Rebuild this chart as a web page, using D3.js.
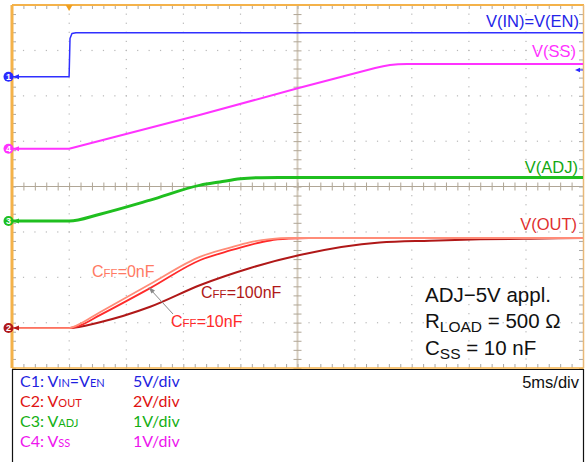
<!DOCTYPE html>
<html>
<head>
<meta charset="utf-8">
<script src="https://cdn.jsdelivr.net/npm/d3@7/dist/d3.min.js"></script>
<style>
  body { margin: 0; background: #fff; }
  svg { display: block; }
</style>
</head>
<body>
<div id="chart"></div>
<script>
// time in ms (5 ms/div, 10 div), voltages in volts
var tIn = [0, 5, 5.08, 5.25, 5.6, 50];
var vIn = [0, 0, 4.2, 4.75, 4.85, 4.85];

var tSS = [0, 5, 16.5, 25.1, 31.8, 32.5, 33.1, 33.8, 34.6, 50];
var vSS = [0, 0, 0.75, 1.34, 1.78, 1.82, 1.85, 1.865, 1.87, 1.87];

var tAdj = [0, 5, 7.7, 12.1, 16.5, 18.2, 20.0, 21.8, 24, 50];
var vAdj = [0, 0, 0.15, 0.46, 0.79, 0.86, 0.93, 0.955, 0.96, 0.96];

var tOut0 = [0, 5, 5.6, 7.7, 12.1, 16.5, 19.1, 20.8, 22.6, 24.3, 50];
var vOut0 = [0, 0, 0.1, 0.70, 1.94, 3.15, 3.55, 3.78, 3.92, 3.97, 3.97];

var tOut10 = [0, 5, 5.8, 7.7, 12.1, 16.5, 19.1, 20.8, 22.6, 24.3, 26, 50];
var vOut10 = [0, 0, 0.08, 0.57, 1.76, 3.0, 3.42, 3.66, 3.86, 3.94, 3.97, 3.97];

var tOut100 = [0, 5, 7.7, 12.1, 16.5, 20.8, 25.2, 32.2, 36.6, 41.0, 45.4, 50];
var vOut100 = [0, 0, 0.26, 0.94, 1.90, 2.64, 3.22, 3.77, 3.85, 3.91, 3.94, 3.97];

// channel: name, ground position (div from centre), volts per div
var channels = [
    { id: '1', pos: 2.42, vdiv: 5, color: '#2a2aff' },
    { id: '2', pos: -3.12, vdiv: 2, color: '#b01818' },
    { id: '3', pos: -0.76, vdiv: 1, color: '#1fbf1f' },
    { id: '4', pos: 0.83, vdiv: 1, color: '#ff33ff' }
];

var legendRows = [
    { ch: 'C1: ', main: 'V', sub: 'IN', rest: '=V', sub2: 'EN', scale: '5V/div', color: '#1f1fe0' },
    { ch: 'C2: ', main: 'V', sub: 'OUT', rest: '', sub2: '', scale: '2V/div', color: '#e01212' },
    { ch: 'C3: ', main: 'V', sub: 'ADJ', rest: '', sub2: '', scale: '1V/div', color: '#14b014' },
    { ch: 'C4: ', main: 'V', sub: 'SS', rest: '', sub2: '', scale: '1V/div', color: '#ee14ee' }
];

var width = 587, height = 462;
var plotLeft = 12, plotRight = 583, plotTop = 5, plotBottom = 368;

var svg = d3.select('#chart').append('svg')
    .attr('width', width)
    .attr('height', height);

svg.append('rect').attr('width', width).attr('height', height).attr('fill', '#fff');

var x = d3.scaleLinear().domain([0, 50]).range([plotLeft, plotRight]);
var y = d3.scaleLinear().domain([-4, 4]).range([plotBottom, plotTop]);

var chanY = function (ch, v) {
    return y(ch.pos + v / ch.vdiv);
};

// dotted graticule
var grid = svg.append('g');
d3.range(5, 50, 5).forEach(function (t) {
    if (t === 25) return;
    d3.range(-4, 4.001, 0.2).forEach(function (d) {
        grid.append('rect').attr('x', x(t) - 0.5).attr('y', y(d) - 0.5)
            .attr('width', 1.2).attr('height', 1.2).attr('fill', '#b8b8b8');
    });
});
d3.range(-3, 4, 1).forEach(function (d) {
    if (d === 0) return;
    d3.range(0, 50.001, 1).forEach(function (t) {
        grid.append('rect').attr('x', x(t) - 0.5).attr('y', y(d) - 0.5)
            .attr('width', 1.2).attr('height', 1.2).attr('fill', '#b8b8b8');
    });
});

// centre cross lines
svg.append('line').attr('x1', plotLeft).attr('x2', plotRight).attr('y1', y(0)).attr('y2', y(0))
    .attr('stroke', '#b0a696').attr('stroke-width', 1.2);
svg.append('line').attr('x1', x(25)).attr('x2', x(25)).attr('y1', plotTop).attr('y2', plotBottom)
    .attr('stroke', '#d6cdbf').attr('stroke-width', 2);

var xMinor = d3.range(0, 50.001, 1);
var yMinor = d3.range(-4, 4.001, 0.2);

var addTicks = function (axis, tx, ty, color) {
    var g = svg.append('g').attr('transform', 'translate(' + tx + ',' + ty + ')').call(axis);
    g.select('.domain').remove();
    g.selectAll('.tick line').attr('stroke', color).attr('stroke-width', 1);
    g.selectAll('.tick text').remove();
    return g;
};

addTicks(d3.axisBottom(x).tickValues(xMinor).tickSize(8).tickFormat(''), 0, y(0) - 4, '#b0a696');
addTicks(d3.axisRight(y).tickValues(yMinor).tickSize(8).tickFormat(''), x(25) - 4, 0, '#b0a696');
addTicks(d3.axisBottom(x).tickValues(xMinor).tickSize(4).tickFormat(''), 0, plotTop, '#a8a8a8');
addTicks(d3.axisTop(x).tickValues(xMinor).tickSize(4).tickFormat(''), 0, plotBottom, '#a8a8a8');
addTicks(d3.axisRight(y).tickValues(yMinor).tickSize(4).tickFormat(''), plotLeft, 0, '#a8a8a8');
addTicks(d3.axisLeft(y).tickValues(yMinor).tickSize(4).tickFormat(''), plotRight, 0, '#a8a8a8');

// orange frame
var frameColor = '#f4b24a';
svg.append('line').attr('x1', plotLeft).attr('x2', plotRight + 1).attr('y1', plotTop).attr('y2', plotTop)
    .attr('stroke', frameColor).attr('stroke-width', 2);
svg.append('line').attr('x1', plotLeft).attr('x2', plotRight + 1).attr('y1', plotBottom).attr('y2', plotBottom)
    .attr('stroke', frameColor).attr('stroke-width', 1.5);
svg.append('line').attr('x1', plotLeft).attr('x2', plotLeft).attr('y1', plotTop).attr('y2', plotBottom)
    .attr('stroke', frameColor).attr('stroke-width', 3);
svg.append('line').attr('x1', plotRight + 0.5).attr('x2', plotRight + 0.5).attr('y1', plotTop).attr('y2', plotBottom)
    .attr('stroke', '#e8b878').attr('stroke-width', 1.5);

// trigger marker
svg.append('path')
    .attr('d', 'M' + (x(5) - 3.5) + ',' + plotTop + 'L' + (x(5) + 3.5) + ',' + plotTop + 'L' + x(5) + ',' + (plotTop + 6) + 'Z')
    .attr('fill', '#f0a020');

// traces
var line = function (ch, curve) {
    return d3.line()
        .x(function (d) { return x(d[0]); })
        .y(function (d) { return chanY(ch, d[1]); })
        .curve(curve);
};
var zip = function (a, b) { return a.map(function (t, i) { return [t, b[i]]; }); };

var traces = [
    { ch: channels[0], t: tIn, v: vIn, color: '#2f2fff', w: 1.5, curve: d3.curveLinear },
    { ch: channels[3], t: tSS, v: vSS, color: '#ff33ff', w: 2, curve: d3.curveLinear },
    { ch: channels[2], t: tAdj, v: vAdj, color: '#1fbf1f', w: 3, curve: d3.curveMonotoneX },
    { ch: channels[1], t: tOut100, v: vOut100, color: '#b01818', w: 2, curve: d3.curveMonotoneX },
    { ch: channels[1], t: tOut10, v: vOut10, color: '#ff2a2a', w: 1.8, curve: d3.curveMonotoneX },
    { ch: channels[1], t: tOut0, v: vOut0, color: '#ff8c78', w: 1.8, curve: d3.curveMonotoneX }
];

traces.forEach(function (tr) {
    svg.append('path')
        .datum(zip(tr.t, tr.v))
        .attr('d', line(tr.ch, tr.curve))
        .attr('fill', 'none')
        .attr('stroke', tr.color)
        .attr('stroke-width', tr.w)
        .attr('stroke-linejoin', 'round');
});

// channel ground markers
channels.forEach(function (ch) {
    var cy = chanY(ch, 0);
    var g = svg.append('g');
    g.append('path')
        .attr('d', 'M13,' + cy + 'L19,' + (cy - 2.5) + 'L19,' + (cy + 2.5) + 'Z')
        .attr('fill', ch.color);
    g.append('circle').attr('cx', 8.5).attr('cy', cy).attr('r', 5).attr('fill', ch.color);
    g.append('text').attr('x', 8.5).attr('y', cy + 3.2)
        .attr('text-anchor', 'middle')
        .attr('font-family', 'Liberation Sans, Arial, sans-serif')
        .attr('font-size', 9).attr('font-weight', 'bold')
        .attr('fill', '#fff').text(ch.id);
});

// C1 level marker on the right
svg.append('path')
    .attr('d', 'M575,70L580,67.8L580,72.2Z').attr('fill', '#2a2aff');
svg.append('line').attr('x1', 578).attr('x2', 583).attr('y1', 70).attr('y2', 70)
    .attr('stroke', '#2a2aff').attr('stroke-width', 1);

// trace labels
var sans = 'Liberation Sans, Arial, Helvetica, sans-serif';
var addLabel = function (txt, lx, ly, color) {
    return svg.append('text').attr('x', lx).attr('y', ly)
        .attr('text-anchor', 'end')
        .attr('font-family', sans).attr('font-size', 16.5)
        .attr('fill', color).text(txt);
};
addLabel('V(IN)=V(EN)', 579, 27, '#2424e8');
addLabel('V(SS)', 576, 57, '#ff33ff');
addLabel('V(ADJ)', 578, 173, '#12a812');
addLabel('V(OUT)', 577, 230, '#e03030');

var cffLabel = function (val, lx, ly, color) {
    var t = svg.append('text').attr('x', lx).attr('y', ly)
        .attr('font-family', sans).attr('font-size', 16).attr('fill', color);
    t.append('tspan').text('C');
    t.append('tspan').attr('font-size', 11.5).text('FF');
    t.append('tspan').text('=' + val);
};
cffLabel('0nF', 92, 277, '#ff7a64');
cffLabel('100nF', 201, 298, '#b01818');
cffLabel('10nF', 171, 327, '#ff2a2a');

// arrow pointing at the 10nF trace
svg.append('line').attr('x1', 173).attr('y1', 314).attr('x2', 151).attr('y2', 290)
    .attr('stroke', '#888').attr('stroke-width', 1);
svg.append('path').attr('d', 'M148.5,287L155,290.5L151.5,293.5Z').attr('fill', '#888');

// test conditions
var cond = svg.append('g').attr('font-family', sans).attr('fill', '#111');
cond.append('text').attr('x', 425).attr('y', 302).attr('font-size', 20.5).text('ADJ\u22125V appl.');
var r = cond.append('text').attr('x', 425).attr('y', 328).attr('font-size', 20.5);
r.append('tspan').text('R');
r.append('tspan').attr('font-size', 15.5).attr('dy', 4).text('LOAD');
r.append('tspan').attr('dy', -4).text(' = 500 \u03a9');
var c = cond.append('text').attr('x', 425).attr('y', 355).attr('font-size', 20.5);
c.append('tspan').text('C');
c.append('tspan').attr('font-size', 15.5).attr('dy', 4).text('SS');
c.append('tspan').attr('dy', -4).text(' = 10 nF');

// bottom info panel
svg.append('path')
    .attr('d', 'M12.5,' + height + 'L12.5,369.5L583.5,369.5L583.5,' + height)
    .attr('fill', 'none').attr('stroke', '#111').attr('stroke-width', 1.2);

var calibri = 'Lato, Carlito, Calibri, sans-serif';
legendRows.forEach(function (row, i) {
    var by = 387 + i * 20;
    var t = svg.append('text').attr('x', 20).attr('y', by)
        .attr('font-family', calibri).attr('font-size', 16).attr('fill', row.color);
    t.append('tspan').text(row.ch + row.main);
    t.append('tspan').attr('font-size', 11).text(row.sub);
    if (row.rest) {
        t.append('tspan').attr('font-size', 16).text(row.rest);
        t.append('tspan').attr('font-size', 11).text(row.sub2);
    }
    svg.append('text').attr('x', 133).attr('y', by)
        .attr('font-family', calibri).attr('font-size', 16).attr('fill', row.color)
        .text(row.scale);
});

svg.append('text').attr('x', 579).attr('y', 388).attr('text-anchor', 'end')
    .attr('font-family', sans).attr('font-size', 16.5).attr('fill', '#111').text('5ms/div');
</script>
</body>
</html>
